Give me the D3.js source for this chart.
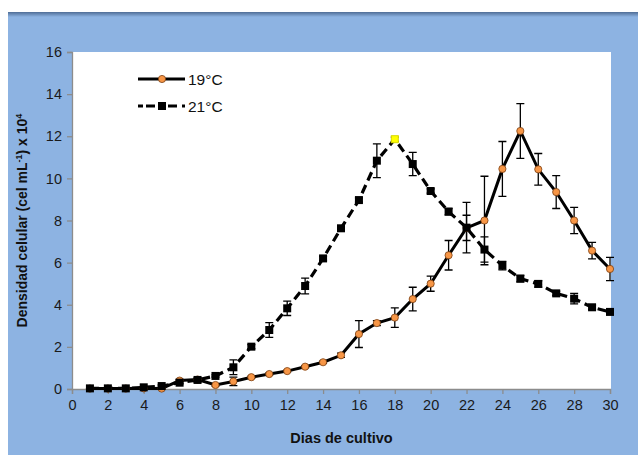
<!DOCTYPE html>
<html>
<head>
<meta charset="utf-8">
<script src="https://cdnjs.cloudflare.com/ajax/libs/d3/7.8.5/d3.min.js"></script>
<style>
  body{margin:0;background:#fff;}
  svg{display:block;font-family:"Liberation Sans",Arial,sans-serif;}
</style>
</head>
<body>
<div id="chart"></div>
<script>
// days of culture
const days = d3.range(1, 31);
// 19 °C series (cel mL-1 x 10^4) and its error bars
const v19 = [0.02,0.02,0.02,0.03,0.02,0.40,0.45,0.19,0.36,0.56,0.71,0.85,1.06,1.27,1.60,2.61,3.13,3.39,4.27,5.00,6.35,7.65,8.00,10.45,12.25,10.43,9.35,8.00,6.57,5.70];
const e19 = [0,0,0,0,0,0.05,0.05,0.05,0.2,0.05,0.05,0.05,0.05,0.05,0.1,0.64,0.12,0.46,0.56,0.36,0.7,0.6,2.1,1.3,1.3,0.75,0.78,0.62,0.39,0.55];
// 21 °C series and its error bars
const v21 = [0.03,0.03,0.03,0.08,0.14,0.30,0.43,0.62,1.03,2.01,2.80,3.83,4.89,6.20,7.63,8.97,10.84,11.86,10.68,9.40,8.42,7.66,6.62,5.86,5.24,4.99,4.54,4.29,3.88,3.66];
const e21 = [0,0,0,0,0.05,0.05,0.1,0.05,0.35,0.1,0.35,0.34,0.37,0.1,0.1,0.1,0.8,0.1,0.55,0.1,0.15,1.2,0.6,0.2,0.15,0.15,0.1,0.25,0.1,0.1];
const highlightDay = 18; // yellow point on 21 °C
const xTicks = d3.range(0, 31, 2);
const yTicks = d3.range(0, 17, 2);

drawChart();

function drawChart(){
  const W = 638, H = 455;
  const plot = {left:72, right:611, top:52, bottom:389};

  const svg = d3.select("#chart").append("svg")
    .attr("width", W).attr("height", H);

  const defs = svg.append("defs");
  const grad = defs.append("linearGradient").attr("id","topEdge")
    .attr("x1",0).attr("y1",0).attr("x2",0).attr("y2",1);
  grad.append("stop").attr("offset","0%").attr("stop-color","#4f6d96");
  grad.append("stop").attr("offset","100%").attr("stop-color","#8db3e2");

  // blue panel
  svg.append("rect").attr("x",8).attr("y",12).attr("width",W-8).attr("height",H-12)
    .attr("fill","#8db3e2");
  svg.append("rect").attr("x",8).attr("y",12).attr("width",W-8).attr("height",5)
    .attr("fill","url(#topEdge)");

  // plot area
  svg.append("rect").attr("x",plot.left).attr("y",plot.top)
    .attr("width",plot.right-plot.left).attr("height",plot.bottom-plot.top)
    .attr("fill","#fff");

  const x = d3.scaleLinear().domain([0,30]).range([plot.left, plot.right - 1]);
  const y = d3.scaleLinear().domain([0,16]).range([plot.bottom, plot.top]);

  // axes
  const xAxis = svg.append("g").attr("transform","translate(0,"+plot.bottom+")")
    .call(d3.axisBottom(x).tickValues(xTicks).tickSize(5).tickPadding(6));
  const yAxis = svg.append("g").attr("transform","translate("+plot.left+",0)")
    .call(d3.axisLeft(y).tickValues(yTicks).tickSize(5).tickPadding(5));
  [xAxis, yAxis].forEach(a => {
    a.select(".domain").attr("stroke","#8c8c8c").attr("stroke-width",1.3);
    a.selectAll(".tick line").attr("stroke","#8c8c8c").attr("stroke-width",1.3);
    a.selectAll("text").attr("fill","#1a1a1a").style("font-size","14.5px");
  });

  const g = svg.append("g");

  // error bars
  function errBars(vals, errs, cls){
    const data = days.map((d,i) => ({d:d, v:vals[i], e:errs[i]})).filter(p => p.e > 0.04);
    const eb = g.append("g").attr("class", cls)
      .attr("stroke","#000").attr("stroke-width",1.3).attr("fill","none");
    eb.selectAll("path").data(data).enter().append("path")
      .attr("d", p => {
        const cx = x(p.d), y1 = y(p.v + p.e), y2 = y(Math.max(0, p.v - p.e));
        return "M"+cx+","+y1+"V"+y2+"M"+(cx-4)+","+y1+"H"+(cx+4)+"M"+(cx-4)+","+y2+"H"+(cx+4);
      });
  }
  errBars(v21, e21, "err21");
  errBars(v19, e19, "err19");

  const line = d3.line().x(d => x(d[0])).y(d => y(d[1]));

  // 21 °C dashed line
  g.append("path").datum(days.map((d,i) => [d, v21[i]]))
    .attr("d", line).attr("fill","none").attr("stroke","#000")
    .attr("stroke-width",3.2).attr("stroke-dasharray","9,5");

  // 19 °C solid
  g.append("path").datum(days.map((d,i) => [d, v19[i]]))
    .attr("d", line).attr("fill","none").attr("stroke","#000")
    .attr("stroke-width",3);
  g.selectAll(".dot").data(days.map((d,i) => [d, v19[i]])).enter().append("circle")
    .attr("class","dot")
    .attr("cx", d => x(d[0])).attr("cy", d => y(d[1])).attr("r",3.6)
    .attr("fill","#f79646").attr("stroke","#7a3d10").attr("stroke-width",0.8);

  // 21 °C squares on top
  g.selectAll(".sq").data(days.map((d,i) => [d, v21[i]])).enter().append("rect")
    .attr("class","sq")
    .attr("x", d => x(d[0]) - (d[0] === highlightDay ? 3.5 : 4))
    .attr("y", d => y(d[1]) - (d[0] === highlightDay ? 3.5 : 4))
    .attr("width", d => d[0] === highlightDay ? 7 : 8)
    .attr("height", d => d[0] === highlightDay ? 7 : 8)
    .attr("fill", d => d[0] === highlightDay ? "#ffff00" : "#000")
    .attr("stroke", d => d[0] === highlightDay ? "#d8d800" : "none");

  // legend
  const leg = svg.append("g");
  leg.append("line").attr("x1",138).attr("x2",185).attr("y1",79).attr("y2",79)
    .attr("stroke","#000").attr("stroke-width",3.2);
  leg.append("circle").attr("cx",162).attr("cy",79).attr("r",3.6)
    .attr("fill","#f79646").attr("stroke","#7a3d10").attr("stroke-width",0.8);
  leg.append("text").attr("x",188).attr("y",84.5).text("19°C")
    .style("font-size","15.5px").attr("fill","#111");
  leg.append("line").attr("x1",138).attr("x2",185).attr("y1",106).attr("y2",106)
    .attr("stroke","#000").attr("stroke-width",3.2).attr("stroke-dasharray","5,3,9,5");
  leg.append("rect").attr("x",158).attr("y",102).attr("width",8).attr("height",8).attr("fill","#000");
  leg.append("text").attr("x",188).attr("y",111.5).text("21°C")
    .style("font-size","15.5px").attr("fill","#111");

  // axis titles
  svg.append("text").attr("x",(plot.left+plot.right)/2).attr("y",443)
    .attr("text-anchor","middle").style("font-size","14.5px").style("font-weight","bold")
    .attr("fill","#111").text("Dias de cultivo");

  const yt = svg.append("text")
    .attr("transform","translate(27,"+((plot.top+plot.bottom)/2)+") rotate(-90)")
    .attr("text-anchor","middle").style("font-size","14px").style("font-weight","bold")
    .attr("fill","#111");
  yt.append("tspan").text("Densidad celular (cel mL");
  yt.append("tspan").attr("dy",-5).style("font-size","9px").text("-1");
  yt.append("tspan").attr("dy",5).text(") x 10");
  yt.append("tspan").attr("dy",-5).style("font-size","9px").text("4");
}
</script>
</body>
</html>
